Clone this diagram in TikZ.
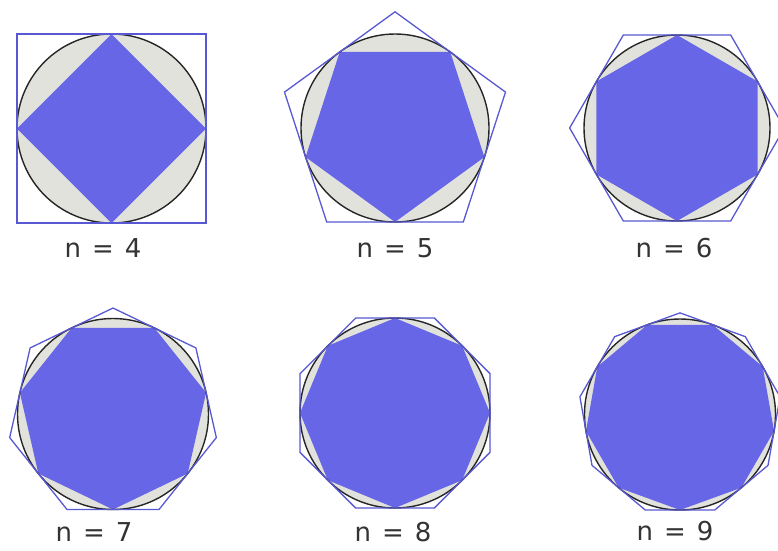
\documentclass[tikz,border=0pt]{standalone}
\usepackage{fontspec}
\setsansfont{DejaVu Sans}
\definecolor{polyblue}{RGB}{102,102,230}
\definecolor{edgeblue}{RGB}{88,88,210}
\definecolor{circgray}{RGB}{226,226,221}
\begin{document}
\begin{tikzpicture}[x=1pt, y=-1pt]
\tikzset{
  disc/.style={fill=circgray},
  rim/.style={draw=black!85, line width=1.4pt},
  inpoly/.style={fill=polyblue},
  outpoly/.style={draw=edgeblue, line width=1.3pt, line join=miter},
  lab/.style={font=\sffamily\fontsize{26}{26}\selectfont, text=black!80}
}
\useasboundingbox (0,0) rectangle (778,550);
\clip (0,0) rectangle (778,550);
% n / centre / radius / label position
\foreach \n/\cx/\cy/\r/\lx/\ly in {4/111.5/128.5/94.5/103/248,
                                   5/395/128/94/395/248,
                                   6/677/128/93/674/248,
                                   7/113/414/95.5/94/532,
                                   8/395/413/95/393/532,
                                   9/680/414.5/95.5/675/531}{
  \fill[disc] (\cx,\cy) circle (\r);
  % inscribed polygon
  \fill[inpoly] ([shift={(\cx,\cy)}]90:\r)
    \foreach \k in {1,...,\n}{ -- ([shift={(\cx,\cy)}]{90+360*\k/\n}:\r) } -- cycle;
  \draw[rim] (\cx,\cy) circle (\r);
  % circumscribed polygon
  \pgfmathsetmacro{\R}{\r/cos(180/\n)}
  \draw[outpoly] ([shift={(\cx,\cy)}]{90+180/\n}:\R)
    \foreach \k in {1,...,\n}{ -- ([shift={(\cx,\cy)}]{90+180/\n+360*\k/\n}:\R) } -- cycle;
  \node[lab] (lab\n) at (\lx,\ly) {n\hspace{0.42em}=\hspace{0.42em}\n};
}
\end{tikzpicture}
\end{document}
